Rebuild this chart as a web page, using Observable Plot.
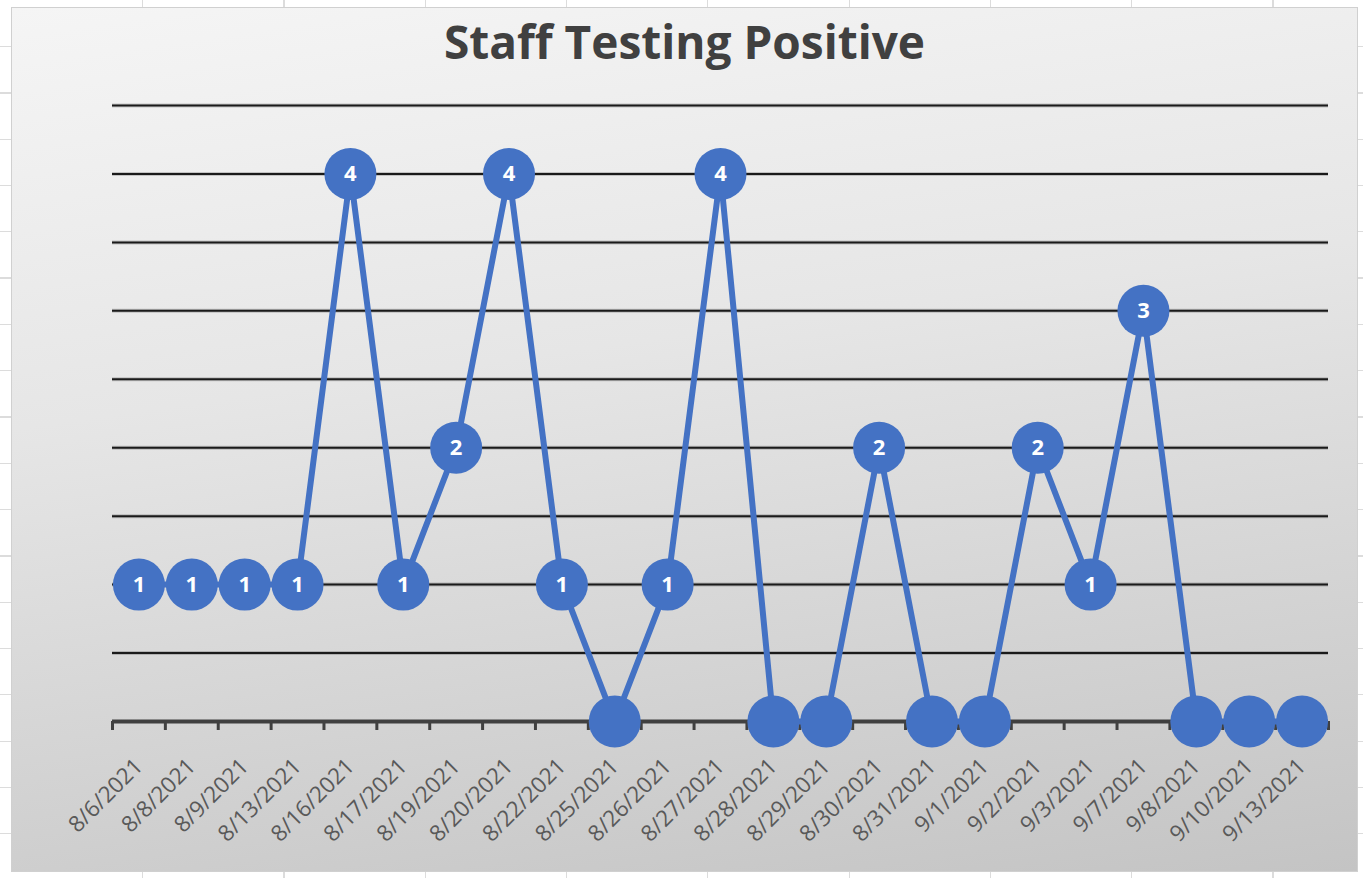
<!DOCTYPE html>
<html>
<head>
<meta charset="utf-8">
<script src="https://cdn.jsdelivr.net/npm/d3@7"></script>
<script src="https://cdn.jsdelivr.net/npm/@observablehq/plot@0.6"></script>
<style>
  html, body { margin: 0; padding: 0; }
  body {
    width: 1363px; height: 878px; position: relative; overflow: hidden;
    background-color: #ffffff;
    background-image:
      repeating-linear-gradient(90deg, transparent 0px, transparent 140px, #dcdcdc 140px, #dcdcdc 141.3px),
      repeating-linear-gradient(180deg, transparent 0px, transparent 45px, #dcdcdc 45px, #dcdcdc 46.3px);
    background-position: 2px 0px, 0px 1px;
  }
  #frame {
    position: absolute; left: 11px; top: 7px; width: 1347px; height: 865px;
    background: linear-gradient(172deg, #f5f5f5 0%, #e6e6e6 40%, #c4c4c4 100%);
    border: 1px solid #d0d0d0; box-sizing: border-box;
  }
  #title {
    position: absolute; left: 0; top: 2px; width: 100%; text-align: center;
    font-family: "Open Sans", sans-serif; font-weight: 700; font-size: 46px;
    color: #404040; letter-spacing: 0px;
  }
  #chart { position: absolute; left: 0; top: 73px; }
</style>
</head>
<body>
<div id="frame">
  <div id="title">Staff Testing Positive</div>
  <div id="chart"></div>
</div>
<script>
const dates = ["8/6/2021","8/8/2021","8/9/2021","8/13/2021","8/16/2021","8/17/2021","8/19/2021","8/20/2021","8/22/2021","8/25/2021","8/26/2021","8/27/2021","8/28/2021","8/29/2021","8/30/2021","8/31/2021","9/1/2021","9/2/2021","9/3/2021","9/7/2021","9/8/2021","9/10/2021","9/13/2021"];
const values = [1,1,1,1,4,1,2,4,1,0,1,4,0,0,2,0,0,2,1,3,0,0,0];
const gridValues = [0.5,1,1.5,2,2.5,3,3.5,4,4.5];

const data = dates.map((d, i) => ({i, date: d, value: values[i]}));
const boundaries = d3.range(-0.5, dates.length, 1);

const blue = "#4472C4";
const W = 1345, H = 797;

const plot = Plot.plot({
  width: W,
  height: H,
  marginLeft: 100,
  marginRight: 29,
  marginTop: 24,
  marginBottom: H - 640,
  style: {background: "transparent", overflow: "visible"},
  x: {type: "linear", domain: [-0.5, dates.length - 0.5], axis: null},
  y: {type: "linear", domain: [0, 4.5], axis: null},
  marks: [
    // gridline shadow
    Plot.ruleY(gridValues, {stroke: "#000", strokeOpacity: 0.18, strokeWidth: 4}),
    Plot.ruleY(gridValues, {stroke: "#1a1a1a", strokeWidth: 2}),
    // tick marks at category boundaries
    Plot.axisX({ticks: boundaries, tickSize: 9, tickFormat: () => "", stroke: "#404040", strokeWidth: 3, tickPadding: 0, label: null}),
    Plot.ruleY([0], {stroke: "#404040", strokeWidth: 4}),
    Plot.line(data, {x: "i", y: "value", stroke: blue, strokeWidth: 6, strokeLinejoin: "miter"}),
    Plot.dot(data, {x: "i", y: "value", r: 26, fill: blue, stroke: null}),
    Plot.text(data.filter(d => d.value > 0), {
      x: "i", y: "value", text: d => String(d.value),
      fill: "white", fontWeight: "bold", fontSize: 22, fontFamily: "Open Sans, sans-serif"
    }),
    // category labels
    Plot.axisX({
      ticks: d3.range(dates.length),
      tickSize: 0,
      tickFormat: i => dates[i],
      tickRotate: -45,
      tickPadding: 41,
      fontSize: 22.5,
      fontFamily: "Open Sans, sans-serif",
      color: "#595959",
      label: null
    })
  ]
});

document.getElementById("chart").appendChild(plot);
</script>
</body>
</html>
